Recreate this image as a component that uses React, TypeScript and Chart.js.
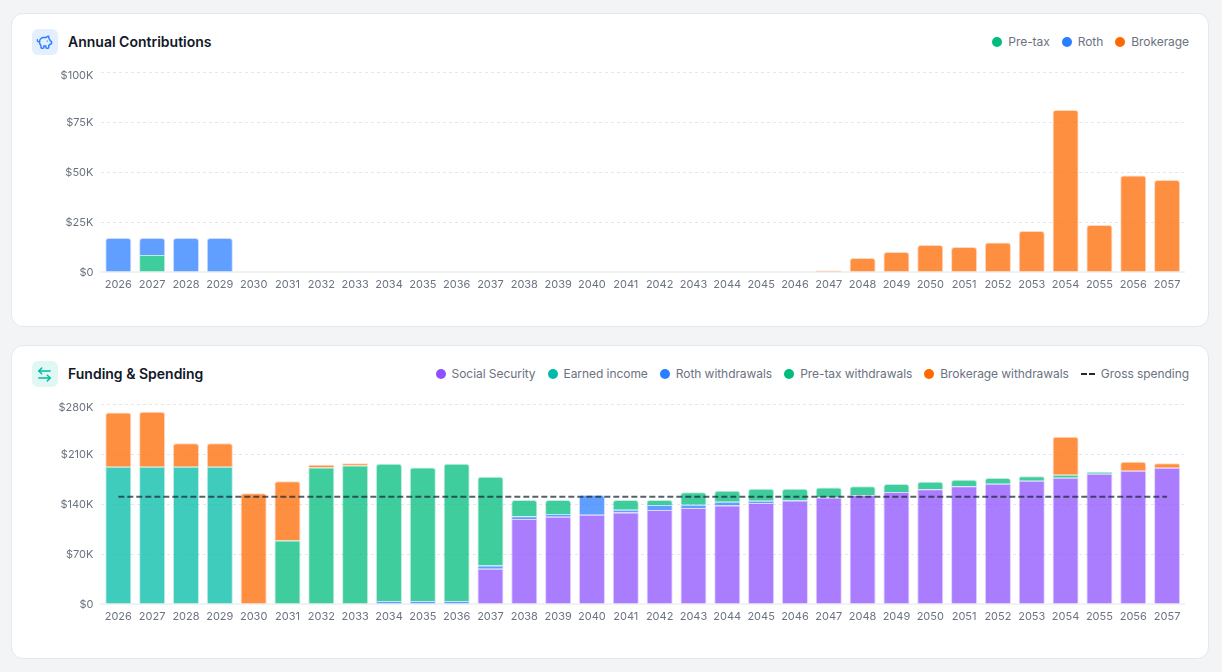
import React, { useEffect, useRef } from "react";
import { Chart, registerables } from "chart.js";

Chart.register(...registerables);

const years = ["2026","2027","2028","2029","2030","2031","2032","2033","2034","2035","2036","2037","2038","2039","2040","2041","2042","2043","2044","2045","2046","2047","2048","2049","2050","2051","2052","2053","2054","2055","2056","2057"];

const contribPreTax = [0,8.5,0,0,0,0,0,0,0,0,0,0,0,0,0,0,0,0,0,0,0,0,0,0,0,0,0,0,0,0,0,0];
const contribRoth = [17,8.5,17,17,0,0,0,0,0,0,0,0,0,0,0,0,0,0,0,0,0,0,0,0,0,0,0,0,0,0,0,0];
const contribBrokerage = [0,0,0,0,0,0,0,0,0,0,0,0,0,0,0,0,0,0,0,0,0,0.8,7,10,13.5,12.5,14.8,20.5,81,23.5,48.3,46];
const contribTicks = [0,25,50,75,100];

const socialSecurity = [0,0,0,0,0,0,0,0,0,0,0,49.5,119,122,125,128,131.6,134.4,138,141.4,145,149,152.6,156.8,160.5,164.7,168.5,172.7,176.9,182.5,186.7,190.9];
const earnedIncome = [192,192,192,192,0,0,0,0,0,0,0,0,0,0,0,0,0,0,0,0,0,0,0,0,0,0,0,0,0,0,0,0];
const rothWithdrawals = [0,0,0,0,0,0,0,0,4.2,4.2,4.2,4.5,4,4,27.6,4,7,4.6,5,3.3,0,0,0,0,0,0,0,0,0,0,0,0];
const preTaxWithdrawals = [0,0,0,0,0,89,191,194,192.3,186.8,192.3,124,22.6,19.6,0,13.6,7,17.5,15.7,16.8,16.5,14,12.4,11.2,10.5,9.3,7.9,6,4.1,2.8,0,0];
const brokerageWithdrawals = [76,77,33,33,155,83,4,3,0,0,0,0,0,0,0,0,0,0,0,0,0,0,0,0,0,0,0,0,53,0,12.6,6.1];
const grossSpending = [150,150,150,150,150,150,150,150,150,150,150,150,150,150,150,150,150,150,150,150,150,150,150,150,150,150,150,150,150,150,150,150];
const fundingTicks = [0,70,140,210,280];

const PURPLE = "142,81,255";
const TEAL = "0,187,167";
const BLUE = "43,127,255";
const GREEN = "0,188,125";
const ORANGE = "255,105,0";
const TICK = "#6b7280";
const FONT = "Inter, 'Noto Sans', sans-serif";

const shiftTopLabel = {
  id: "shiftTopLabel",
  beforeDraw(chart: any) {
    const items = chart.scales.y.getLabelItems();
    const top = items[items.length - 1];
    if (top && !top.__moved) {
      top.options.translation[1] += 3;
      top.__moved = true;
    }
  },
};

function barDs(label: string, data: number[], rgb: string, all: number[][], idx: number) {
  return {
    type: "bar" as const,
    label,
    data,
    order: 2,
    stack: "a",
    backgroundColor: `rgba(${rgb},0.75)`,
    borderColor: `rgba(${rgb},0.25)`,
    borderWidth: { top: 1, left: 1, right: 1, bottom: 0 },
    borderSkipped: false,
    barPercentage: 0.77,
    categoryPercentage: 1,
    borderRadius: (ctx: any) => {
      const i = ctx.dataIndex;
      const above = all.slice(idx + 1).some((a) => a[i] > 0);
      return above ? 0 : { topLeft: 3, topRight: 3, bottomLeft: 0, bottomRight: 0 };
    },
  };
}

function baseOptions(max: number, ticks: number[]) {
  return {
    responsive: false,
    animation: false as const,
    layout: { padding: { top: 7, right: 5, left: 0, bottom: 0 } },
    plugins: { legend: { display: false }, tooltip: { enabled: false } },
    scales: {
      x: {
        stacked: true,
        afterFit: (s: any) => {
          s.height = 33;
          s.paddingLeft = 0;
          s.paddingRight = 0;
        },
        grid: { display: false, drawTicks: false },
        border: { display: true, color: "#f1f2f4", width: 2 },
        ticks: { color: TICK, font: { family: FONT, size: 11 }, padding: 6, maxRotation: 0, autoSkip: false },
      },
      y: {
        stacked: true,
        min: 0,
        max,
        afterFit: (s: any) => {
          s.width = 70.4;
          s.paddingTop = 0;
          s.paddingBottom = 0;
        },
        afterBuildTicks: (s: any) => { s.ticks = ticks.map((value) => ({ value })); },
        border: { display: false, dash: [3, 3] },
        grid: { color: "#e5e7eb", lineWidth: 1, drawTicks: false },
        ticks: {
          color: TICK,
          font: { family: FONT, size: 11 },
          padding: 8,
          labelOffset: 1,
          callback: (v: any) => `$${v}${v === 0 ? "" : "K"}`,
        },
      },
    },
  };
}

function ChartCanvas({ config }: { config: () => any }) {
  const ref = useRef<HTMLCanvasElement>(null);
  useEffect(() => {
    const c = new Chart(ref.current!, config());
    return () => c.destroy();
  }, []);
  return (
    <canvas
      ref={ref}
      width={1158}
      height={240}
      style={{ position: "absolute", left: 19, top: 51, width: 1158, height: 240 }}
    />
  );
}

const contribConfig = () => {
  const all = [contribPreTax, contribRoth, contribBrokerage];
  return {
    data: {
      labels: years,
      datasets: [
        barDs("Pre-tax", contribPreTax, GREEN, all, 0),
        barDs("Roth", contribRoth, BLUE, all, 1),
        barDs("Brokerage", contribBrokerage, ORANGE, all, 2),
      ],
    },
    options: baseOptions(100, contribTicks),
    plugins: [shiftTopLabel],
  };
};

const fundingConfig = () => {
  const all = [socialSecurity, earnedIncome, rothWithdrawals, preTaxWithdrawals, brokerageWithdrawals];
  return {
    data: {
      labels: years,
      datasets: [
        barDs("Social Security", socialSecurity, PURPLE, all, 0),
        barDs("Earned income", earnedIncome, TEAL, all, 1),
        barDs("Roth withdrawals", rothWithdrawals, BLUE, all, 2),
        barDs("Pre-tax withdrawals", preTaxWithdrawals, GREEN, all, 3),
        barDs("Brokerage withdrawals", brokerageWithdrawals, ORANGE, all, 4),
        {
          type: "line" as const,
          label: "Gross spending",
          data: grossSpending,
          order: 1,
          stack: "line",
          borderColor: "rgba(31,41,55,0.75)",
          borderWidth: 2,
          borderDash: [6, 3],
          pointRadius: 0,
          fill: false,
        },
      ],
    },
    options: baseOptions(280, fundingTicks),
    plugins: [shiftTopLabel],
  };
};

function Legend({ items }: { items: { label: string; color: string; dash?: boolean }[] }) {
  return (
    <div style={{ position: "absolute", right: 19, top: 19, height: 18, display: "flex", alignItems: "center", gap: 12 }}>
      {items.map((it) => (
        <div key={it.label} style={{ display: "flex", alignItems: "center", gap: 6, fontSize: 12, letterSpacing: "-0.06px", color: "#6b7280", lineHeight: "18px" }}>
          {it.dash ? (
            <span style={{ display: "inline-flex", gap: 2, width: 14 }}>
              <span style={{ width: 6, height: 2, background: it.color }} />
              <span style={{ width: 6, height: 2, background: it.color }} />
            </span>
          ) : (
            <span style={{ width: 10, height: 10, borderRadius: "50%", background: it.color }} />
          )}
          {it.label}
        </div>
      ))}
    </div>
  );
}

function Card({ top, title, tile, stroke, icon, legend, config }: any) {
  return (
    <div
      style={{
        position: "absolute",
        left: 11,
        top,
        width: 1198,
        height: 314,
        boxSizing: "border-box",
        background: "#fff",
        border: "1px solid #e5e7eb",
        borderRadius: 12,
      }}
    >
      <div style={{ position: "absolute", left: 19.5, top: 15, width: 26, height: 26, borderRadius: 6, background: tile, display: "flex", alignItems: "center", justifyContent: "center" }}>
        <svg width="17" height="17" viewBox="0 0 24 24" fill="none" stroke={stroke} strokeWidth="2" strokeLinecap="round" strokeLinejoin="round">
          {icon.map((d: string) => <path key={d} d={d} />)}
        </svg>
      </div>
      <div style={{ position: "absolute", left: 56, top: 18, lineHeight: "20px", fontSize: 14, fontWeight: 600, color: "#111827" }}>{title}</div>
      <Legend items={legend} />
      <ChartCanvas config={config} />
    </div>
  );
}

const piggy = [
  "M11 17h3v2a1 1 0 0 0 1 1h2a1 1 0 0 0 1-1v-3a3.16 3.16 0 0 0 2-2h1a1 1 0 0 0 1-1v-2a1 1 0 0 0-1-1h-1a5 5 0 0 0-2-4V3a4 4 0 0 0-3.2 1.6l-.3.4H11a6 6 0 0 0-6 6v1a5 5 0 0 0 2 4v3a1 1 0 0 0 1 1h2a1 1 0 0 0 1-1z",
  "M16 10h.01",
  "M2 8v1a2 2 0 0 0 2 2h1",
];
const arrows = ["M8 3 4 7l4 4", "M4 7h16", "m16 21 4-4-4-4", "M20 17H4"];

export default function App() {
  useEffect(() => {
    document.body.style.margin = "0";
  }, []);
  return (
    <div style={{ position: "fixed", inset: 0, background: "#f3f4f6", fontFamily: FONT, overflow: "hidden" }}>
      <Card
        top={13}
        title="Annual Contributions"
        tile="#e3eeff"
        stroke="#2b7fff"
        icon={piggy}
        config={contribConfig}
        legend={[
          { label: "Pre-tax", color: "rgb(0,188,125)" },
          { label: "Roth", color: "rgb(43,127,255)" },
          { label: "Brokerage", color: "rgb(255,105,0)" },
        ]}
      />
      <Card
        top={345}
        title="Funding & Spending"
        tile="#e0f7f4"
        stroke="#00bba7"
        icon={arrows}
        config={fundingConfig}
        legend={[
          { label: "Social Security", color: "rgb(142,81,255)" },
          { label: "Earned income", color: "rgb(0,187,167)" },
          { label: "Roth withdrawals", color: "rgb(43,127,255)" },
          { label: "Pre-tax withdrawals", color: "rgb(0,188,125)" },
          { label: "Brokerage withdrawals", color: "rgb(255,105,0)" },
          { label: "Gross spending", color: "#1f2937", dash: true },
        ]}
      />
    </div>
  );
}
